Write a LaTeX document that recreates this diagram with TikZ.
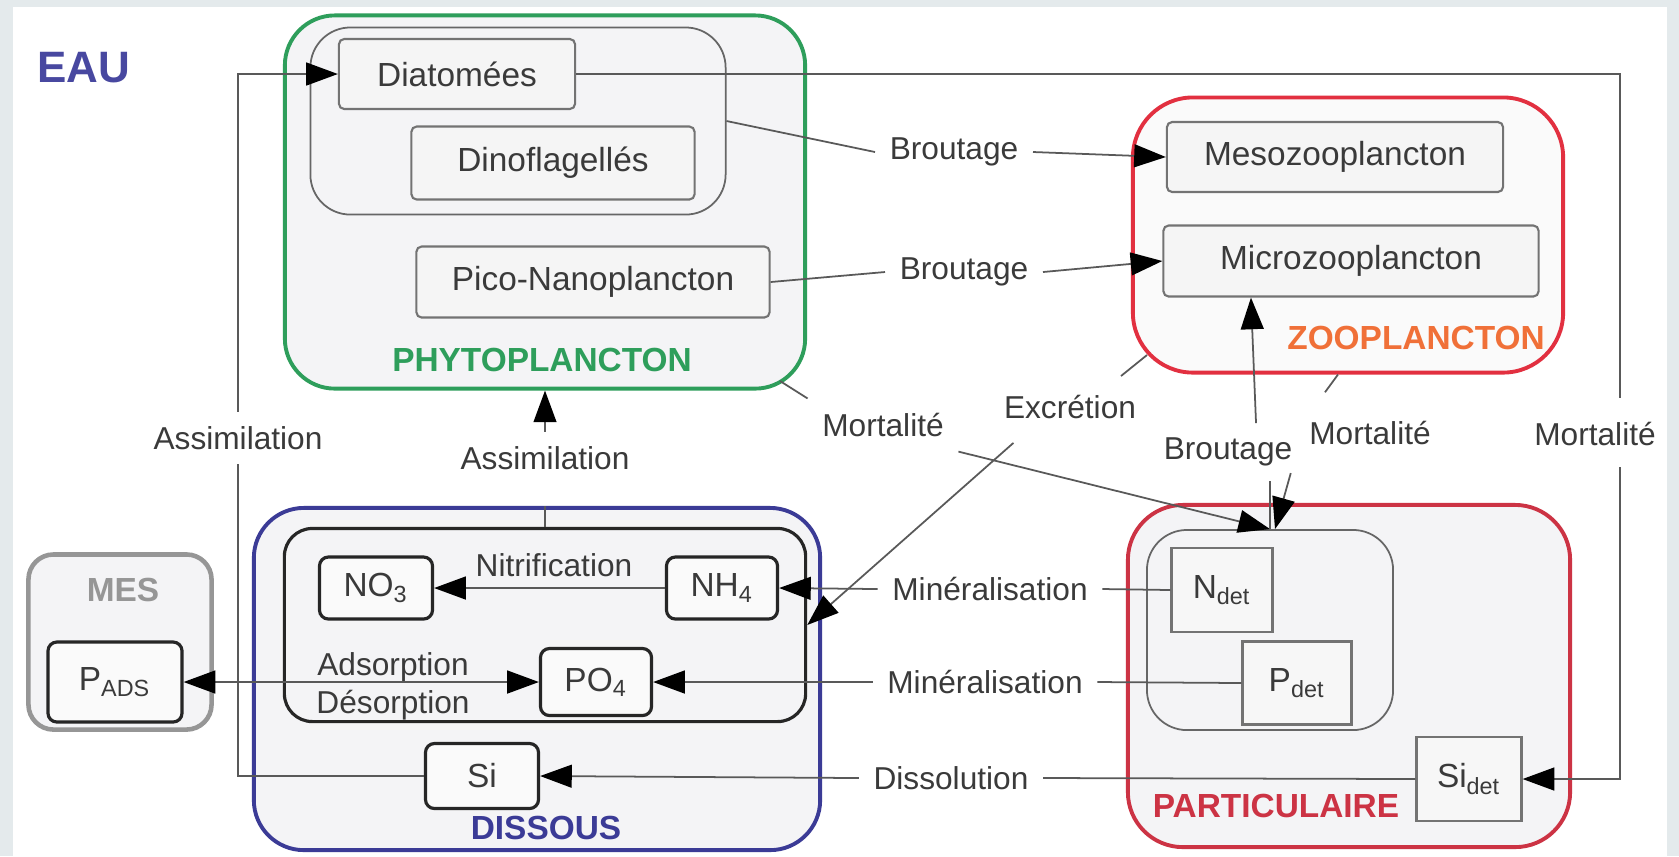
\documentclass[tikz,border=0pt]{standalone}
\usepackage{fontspec}
\setmainfont{Liberation Sans}
\usetikzlibrary{arrows.meta,calc}
\definecolor{bgc}{RGB}{228,234,236}
\definecolor{phygreen}{RGB}{46,158,91}
\definecolor{zoored}{RGB}{226,48,64}
\definecolor{zooorange}{RGB}{240,112,56}
\definecolor{partred}{RGB}{204,51,68}
\definecolor{dissblue}{RGB}{59,59,150}
\definecolor{eaublue}{RGB}{72,72,160}
\definecolor{mesgray}{RGB}{150,150,150}
\definecolor{txt}{RGB}{58,58,58}
\definecolor{boxfill}{RGB}{244,244,246}
\begin{document}
\begin{tikzpicture}[x=0.01cm,y=-0.01cm,
        font=\fontsize{9.5}{11}\selectfont, text=txt,
        group/.style={draw, line width=1.1pt, fill=boxfill, inner sep=0pt},
        sub/.style={draw=black!60, line width=0.5pt, fill=boxfill, inner sep=0pt},
        taxon/.style={draw=black!55, fill=black!4, line width=0.6pt, rounded corners=1.5pt, inner sep=0pt},
        nut/.style={draw=black!85, fill=black!2, line width=0.9pt, rounded corners=0.09cm, inner sep=0pt},
        det/.style={draw=black!55, fill=black!3, line width=0.6pt, inner sep=0pt},
        lbl/.style={font=\fontsize{9}{10}\selectfont, inner sep=4pt},
        title/.style={font=\fontsize{9.5}{11}\selectfont\bfseries},
        flow/.style={draw=black!65, line width=0.5pt},
        arr/.style={flow, -{Triangle[length=9pt,width=6.5pt,black]}},
        arrs/.style={flow, {Triangle[length=9pt,width=6.5pt,black]}-{Triangle[length=9pt,width=6.5pt,black]}}]
    \path[use as bounding box] (0,0) rectangle (1679,856);
    \fill[bgc] (0,0) rectangle (1679,856);
    \fill[white] (13,7) rectangle (1667,856);
    \node[font=\fontsize{12.5}{14}\selectfont\bfseries, text=eaublue] (eau) at (84,68) {EAU};

    \node[group, draw=phygreen, rounded corners=0.5cm, minimum width=5.2cm, minimum height=3.73cm] (phyto) at (545,202) {};
    \node[sub, rounded corners=0.4cm, minimum width=4.15cm, minimum height=1.87cm] (phyIn) at (518,121) {};
    \node[taxon, minimum width=2.36cm, minimum height=0.70cm] (diat) at (457,74) {Diatomées};
    \node[taxon, minimum width=2.83cm, minimum height=0.73cm] (dino) at (553,163) {Dinoflagellés};
    \node[taxon, minimum width=3.53cm, minimum height=0.71cm] (pico) at (593,282) {Pico-Nanoplancton};
    \node[title, text=phygreen] (phyLab) at (542,360) {PHYTOPLANCTON};

    \node[group, draw=zoored, fill=black!2, rounded corners=0.6cm, minimum width=4.3cm, minimum height=2.75cm] (zoo) at (1348,235) {};
    \node[taxon, minimum width=3.36cm, minimum height=0.70cm] (meso) at (1335,157) {Mesozooplancton};
    \node[taxon, minimum width=3.75cm, minimum height=0.71cm] (micro) at (1351,261) {Microzooplancton};
    \node[title, text=zooorange] (zooLab) at (1416,338) {ZOOPLANCTON};

    \node[group, draw=mesgray, line width=1.3pt, rounded corners=0.25cm, minimum width=1.83cm, minimum height=1.75cm] (mes) at (120,642) {};
    \node[title, text=mesgray] (mesLab) at (123,590) {MES};
    \node[nut, minimum width=1.34cm, minimum height=0.80cm] (pads) at (115,682) {P\textsubscript{ADS}};

    \node[group, draw=dissblue, rounded corners=0.5cm, minimum width=5.66cm, minimum height=3.42cm] (diss) at (537,679) {};
    \node[sub, draw=black!85, line width=0.9pt, rounded corners=0.28cm, minimum width=5.21cm, minimum height=1.93cm] (dissIn) at (545,625) {};
    \node[nut, minimum width=1.13cm, minimum height=0.62cm] (no3) at (376,588) {NO\textsubscript{3}};
    \node[nut, minimum width=1.11cm, minimum height=0.62cm] (nh4) at (722,588) {NH\textsubscript{4}};
    \node[nut, minimum width=1.11cm, minimum height=0.67cm] (po4) at (596,682) {PO\textsubscript{4}};
    \node[nut, minimum width=1.13cm, minimum height=0.65cm] (si) at (482,776) {Si};
    \node[title, text=dissblue] (dissLab) at (546,828) {DISSOUS};

    \node[group, draw=partred, rounded corners=0.55cm, minimum width=4.42cm, minimum height=3.42cm] (part) at (1349,676) {};
    \node[sub, rounded corners=0.4cm, minimum width=2.46cm, minimum height=2.0cm] (partIn) at (1270,630) {};
    \node[det, minimum width=1.01cm, minimum height=0.84cm] (ndet) at (1222,590) {N\textsubscript{det}};
    \node[det, minimum width=1.09cm, minimum height=0.83cm] (pdet) at (1297,683) {P\textsubscript{det}};
    \node[det, minimum width=1.05cm, minimum height=0.84cm] (sidet) at (1469,779) {Si\textsubscript{det}};
    \node[title, text=partred] (partLab) at (1276,806) {PARTICULAIRE};

    \node[lbl] (br1) at (954,152) {Broutage};
    \node[lbl] (br2) at (964,272) {Broutage};
    \node[lbl] (br3) at (1228,452) {Broutage};
    \node[lbl] (mortP) at (883,425) {Mortalité};
    \node[lbl] (excr) at (1070,407) {Excrétion};
    \node[lbl] (mortZ) at (1370,433) {Mortalité};
    \node[lbl] (mortR) at (1595,434) {Mortalité};
    \node[lbl] (assimL) at (238,438) {Assimilation};
    \node[lbl] (assimM) at (545,458) {Assimilation};
    \node[lbl] (nitLab) at (554,565) {Nitrification};
    \node[lbl] (adsLab) at (393,667) {Adsorption};
    \node[lbl] (desLab) at (393,705) {Désorption};
    \node[lbl] (min1) at (990,589) {Minéralisation};
    \node[lbl] (min2) at (985,682) {Minéralisation};
    \node[lbl] (dissol) at (951,778) {Dissolution};

    \coordinate (mR1) at (1620,398);
    \coordinate (mR2) at (1620,467);
    \coordinate (phyC) at (780,381);
    \coordinate (zooC) at (1147,355);
    \coordinate (excrIn) at (1121,376);

    \draw[flow] (si.west) -| (assimL.south);
    \draw[arr] (assimL.north) |- (diat.west);
    \draw[flow] (diat.east) -| (mR1);
    \draw[arr] (mR2) |- (sidet.east);
    \draw[flow] (phyIn.east) -- (br1.west);
    \draw[arr] (br1.east) -- (meso.west);
    \draw[flow] (pico.east) -- (br2.west);
    \draw[arr] (br2.east) -- (micro.west);
    \draw[flow] (phyC) -- (mortP.north west);
    \draw[arr] (mortP.south east) -- (partIn.north);
    \draw[flow] (zooC) -- (excrIn);
    \draw[arr, shorten <=4pt] (excr.-150) -- (dissIn.east);
    \draw[flow] (partIn.north) -- (partIn.north |- br3.south);
    \draw[arr] ([xshift=0.28cm]br3.north) -- ([xshift=-1.0cm]micro.south);
    \draw[flow, shorten >=5pt] ([xshift=-0.1cm]zoo.south) -- ([xshift=0.2cm]mortZ.north west);
    \draw[arr, shorten <=4pt] (mortZ.south west) -- ([xshift=0.05cm]partIn.north);
    \draw[flow, shorten >=6pt] (dissIn.north) -- (assimM.south);
    \draw[arr] (assimM.north) -- (phyto.south);
    \draw[arr] (nh4.west) -- (no3.east);
    \draw[arrs] (pads.east) -- (po4.west);
    \draw[flow] (ndet.west) -- (min1.east);
    \draw[arr] (min1.west) -- (nh4.east);
    \draw[flow] (pdet.west) -- (min2.east);
    \draw[arr] (min2.west) -- (po4.east);
    \draw[flow] (sidet.west) -- (dissol.east);
    \draw[arr] (dissol.west) -- (si.east);
\end{tikzpicture}
\end{document}
